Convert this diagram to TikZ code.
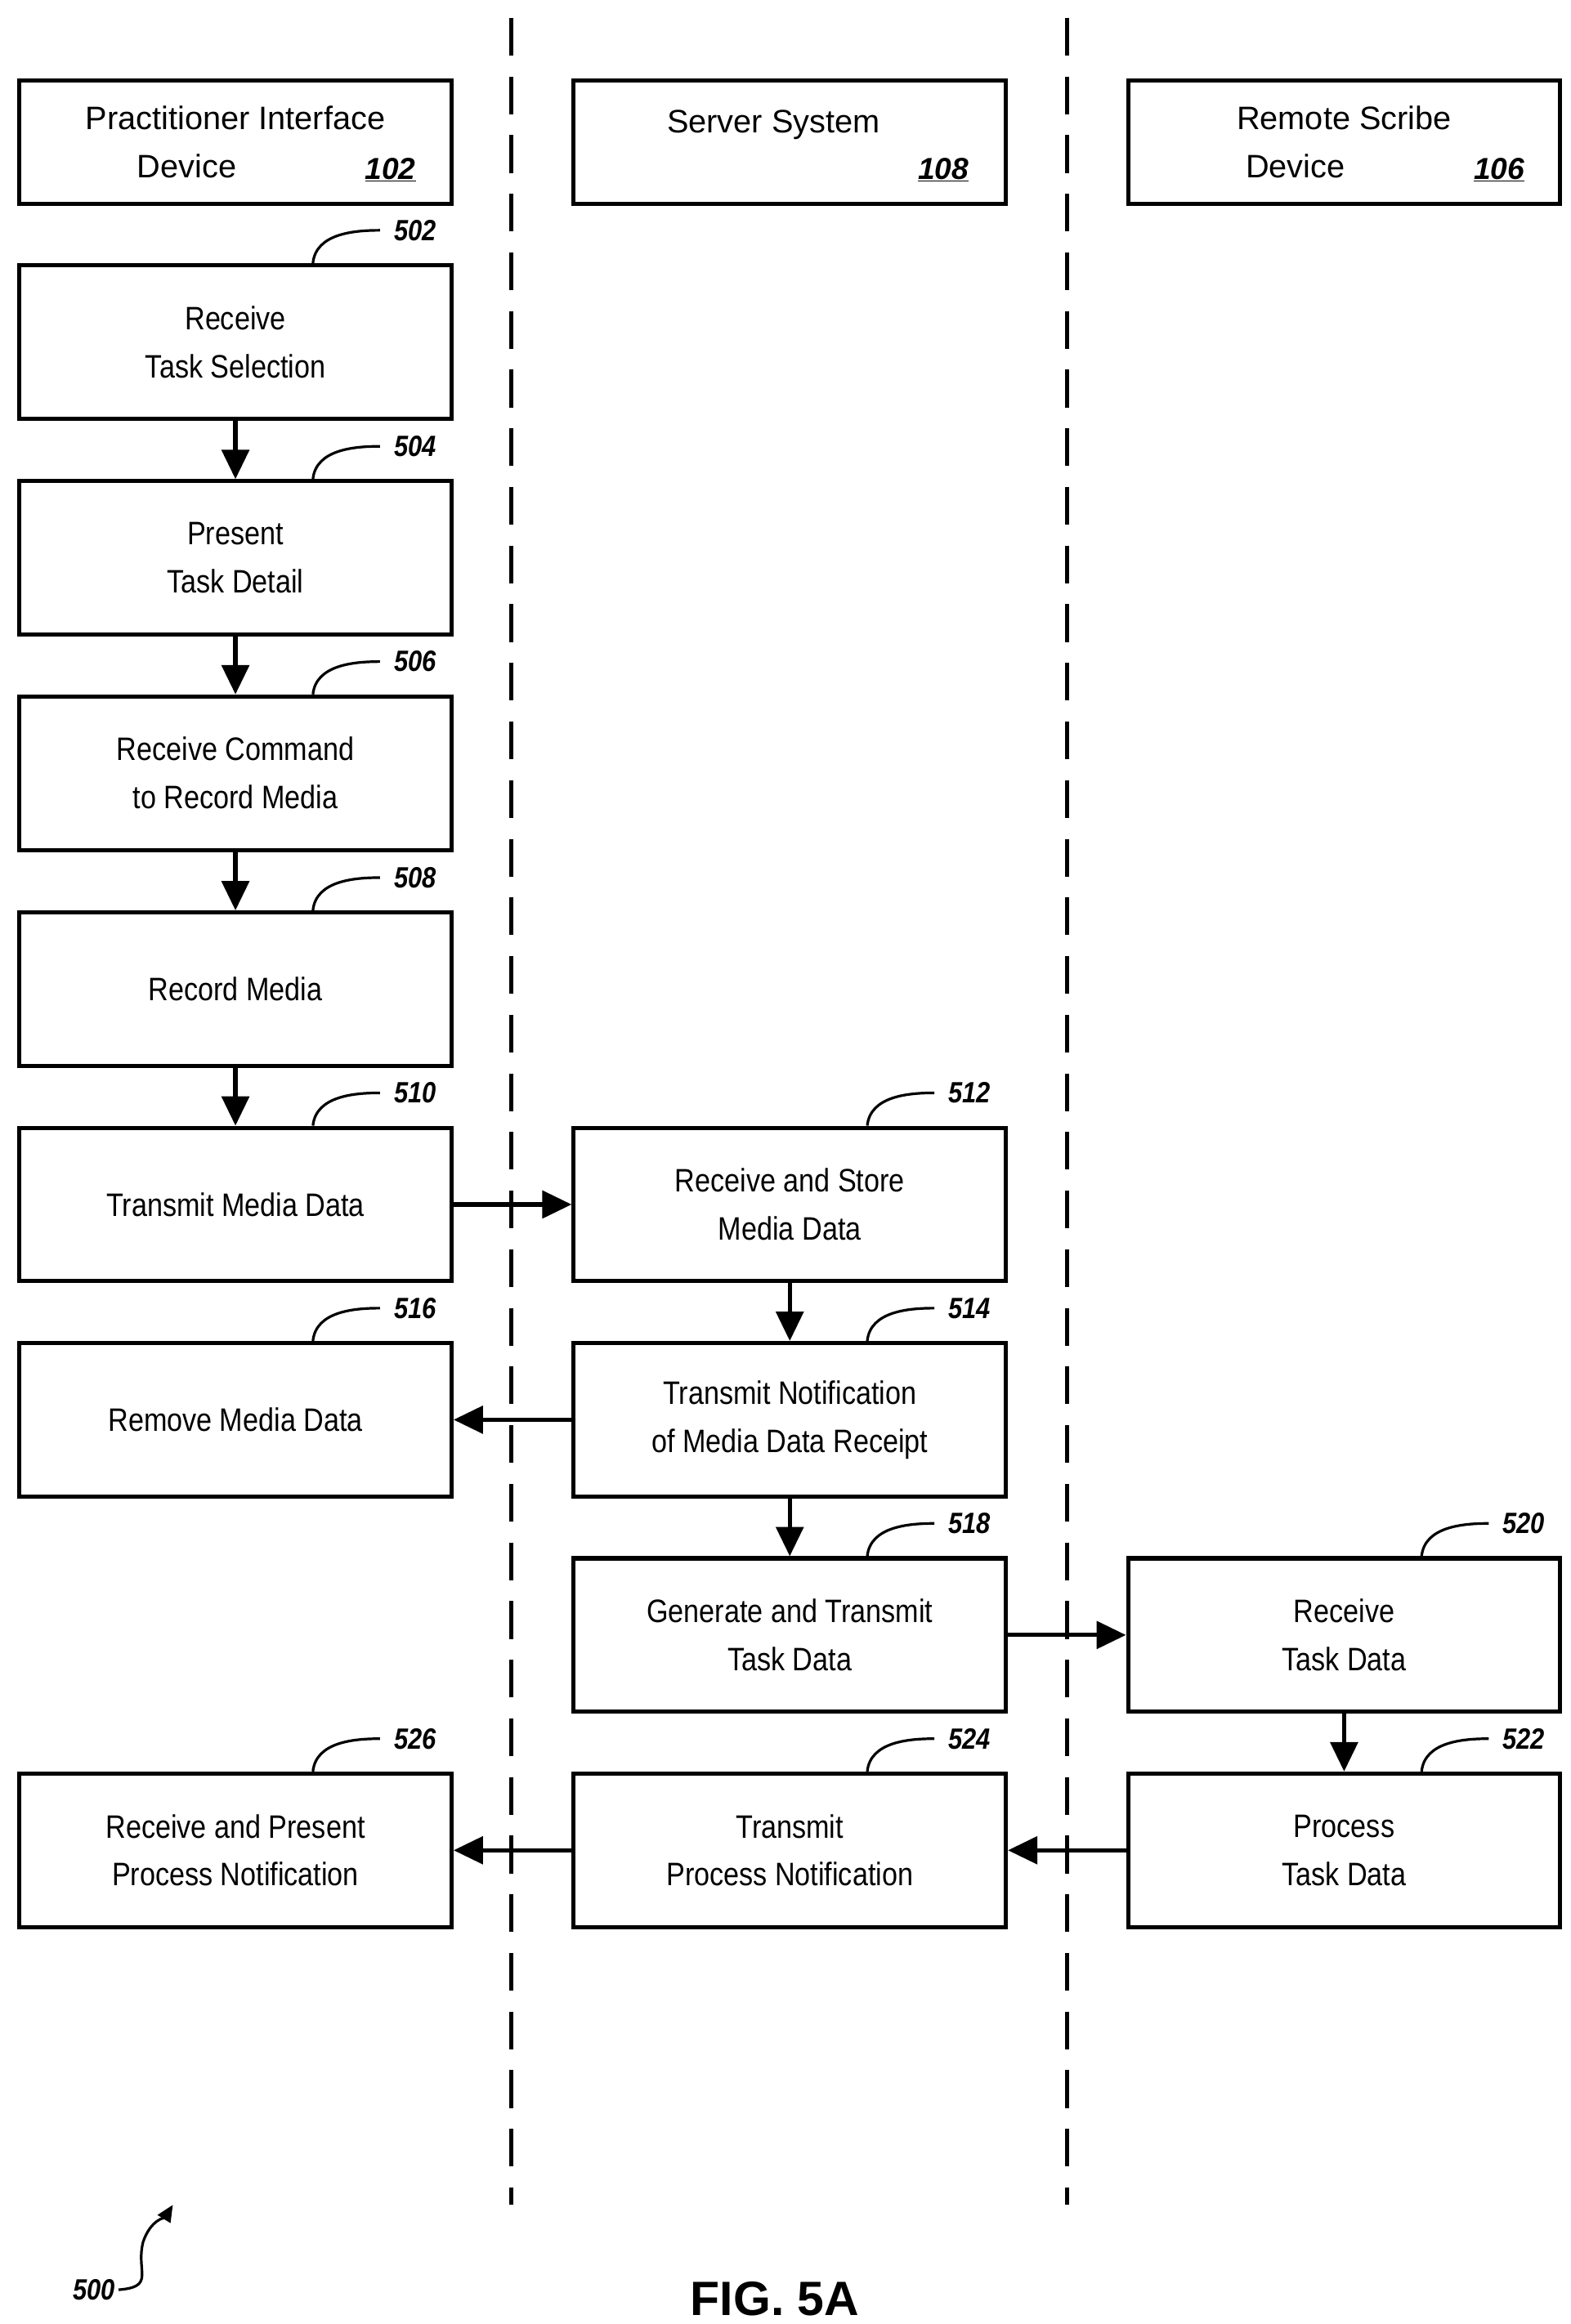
\documentclass[tikz,border=0pt]{standalone}
\usepackage{fontspec}
\setmainfont{Liberation Sans}
\newfontfamily\narrow[FakeStretch=0.86]{Liberation Sans}
\usetikzlibrary{arrows.meta,calc}
\begin{document}
\begin{tikzpicture}[x=0.05cm,y=-0.05cm,
 box/.style={draw,line width=4pt,minimum width=14.5cm,minimum height=5.15cm,inner sep=0,align=center,font=\narrow\fontsize{31}{46}\selectfont},
 hbox/.style={draw,line width=4pt,minimum width=14.5cm,minimum height=4.15cm,inner sep=0,align=center,font=\fontsize{31}{46}\selectfont},
 num/.style={font=\bfseries\itshape\narrow\fontsize{28}{30}\selectfont},
 arr/.style={line width=4pt,-{Triangle[length=28pt,width=26pt]}},
 lane/.style={line width=4pt,dash pattern=on 36pt off 20pt}]
\useasboundingbox (0,0) rectangle (1054,1560);
\draw[lane] (343,12) -- (343,1480);
\draw[lane] (716,12) -- (716,1480);
\node[hbox] (h1) at (158,95.5) {Practitioner Interface\\Device\hspace{3em}\mbox{}};
\node[num,font=\bfseries\itshape\fontsize{29}{30}\selectfont] (r102) at (262,114) {\underline{102}};
\node[hbox] (h2) at (530,95.5) {Server System\hspace{1em}\mbox{}\\[-0.2em]\mbox{}};
\node[num,font=\bfseries\itshape\fontsize{29}{30}\selectfont] (r108) at (633,114) {\underline{108}};
\node[hbox] (h3) at (902,95.5) {Remote Scribe\\Device\hspace{3em}\mbox{}};
\node[num,font=\bfseries\itshape\fontsize{29}{30}\selectfont] (r106) at (1006,114) {\underline{106}};
\newcommand{\bx}[4]{\node[box] (#1) at (#2,#3) {#4};}
\bx{b502}{158}{229.5}{Receive\\Task Selection}
\bx{b504}{158}{374.5}{Present\\Task Detail}
\bx{b506}{158}{519}{Receive Command\\to Record Media}
\bx{b508}{158}{664}{Record Media}
\bx{b510}{158}{808.5}{Transmit Media Data}
\bx{b512}{530}{808.5}{Receive and Store\\Media Data}
\bx{b516}{158}{953}{Remove Media Data}
\bx{b514}{530}{953}{Transmit Notification\\of Media Data Receipt}
\bx{b518}{530}{1097.5}{Generate and Transmit\\Task Data}
\bx{b520}{902}{1097.5}{Receive\\Task Data}
\bx{b526}{158}{1242}{Receive and Present\\Process Notification}
\bx{b524}{530}{1242}{Transmit\\Process Notification}
\bx{b522}{902}{1242}{Process\\Task Data}
\foreach \n/\t in {b502/502,b504/504,b506/506,b508/508,b510/510,b512/512,b516/516,b514/514,b518/518,b520/520,b526/526,b524/524,b522/522}{
 \draw[line width=2.5pt] ($(\n.north)+(52,0)$) .. controls ($(\n.north)+(54,-20)$) and ($(\n.north)+(80,-22)$) .. ($(\n.north)+(97,-22)$);
 \node[num,anchor=west] at ($(\n.north)+(104,-22)$) {\t};}
\draw[arr] (b502) -- (b504);
\draw[arr] (b504) -- (b506);
\draw[arr] (b506) -- (b508);
\draw[arr] (b508) -- (b510);
\draw[arr] (b510) -- (b512);
\draw[arr] (b512) -- (b514);
\draw[arr] (b514) -- (b516);
\draw[arr] (b514) -- (b518);
\draw[arr] (b518) -- (b520);
\draw[arr] (b520) -- (b522);
\draw[arr] (b522) -- (b524);
\draw[arr] (b524) -- (b526);
\node[num] (n500) at (63,1537) {500};
\coordinate (t500) at (116,1480);
\draw[line width=2.5pt,-{Triangle[length=16pt,width=14pt]}] (n500.east) .. controls +(25,-2) and +(-5,20) .. (96,1505) .. controls +(5,-15) and +(-5,8) .. (t500);
\node[font=\bfseries\fontsize{46}{50}\selectfont] (fig) at (520,1543) {FIG. 5A};
\end{tikzpicture}
\end{document}
